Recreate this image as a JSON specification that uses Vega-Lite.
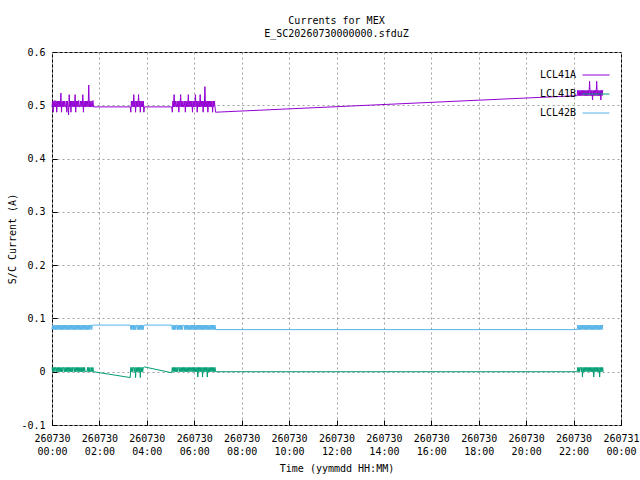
{
  "$schema": "https://vega.github.io/schema/vega-lite/v6.json",
  "autosize": "none",
  "padding": {"left": 52, "top": 52, "right": 19, "bottom": 55},
  "width": 569,
  "height": 373,
  "background": "white",
  "title": {
    "text": "Currents for MEX",
    "subtitle": "E_SC20260730000000.sfduZ",
    "anchor": "middle",
    "font": "DejaVu Sans Mono",
    "fontSize": 10,
    "fontWeight": "normal",
    "color": "black",
    "subtitleFont": "DejaVu Sans Mono",
    "subtitleFontSize": 10,
    "subtitleColor": "black",
    "subtitlePadding": 3,
    "offset": 8
  },
  "data": {
    "values": [
      {"hour": 0, "LCL41A": 0.497, "LCL41B": 0.008, "LCL42B": 0.079},
      {"hour": 0.025, "LCL41A": 0.508, "LCL41B": 0, "LCL42B": 0.0875},
      {"hour": 0.05, "LCL41A": 0.487, "LCL41B": 0.008, "LCL42B": 0.079},
      {"hour": 0.075, "LCL41A": 0.508, "LCL41B": 0, "LCL42B": 0.0875},
      {"hour": 0.1, "LCL41A": 0.497, "LCL41B": 0.008, "LCL42B": 0.079},
      {"hour": 0.125, "LCL41A": 0.509, "LCL41B": 0, "LCL42B": 0.0875},
      {"hour": 0.15, "LCL41A": 0.497, "LCL41B": 0.008, "LCL42B": 0.079},
      {"hour": 0.175, "LCL41A": 0.508, "LCL41B": 0.008, "LCL42B": 0.0875},
      {"hour": 0.2, "LCL41A": 0.487, "LCL41B": 0, "LCL42B": 0.079},
      {"hour": 0.225, "LCL41A": 0.508, "LCL41B": 0.008, "LCL42B": 0.0875},
      {"hour": 0.25, "LCL41A": 0.497, "LCL41B": 0, "LCL42B": 0.079},
      {"hour": 0.275, "LCL41A": 0.508, "LCL41B": 0.008, "LCL42B": 0.0875},
      {"hour": 0.3, "LCL41A": 0.497, "LCL41B": 0, "LCL42B": 0.079},
      {"hour": 0.325, "LCL41A": 0.508, "LCL41B": 0.008, "LCL42B": 0.0875},
      {"hour": 0.35, "LCL41A": 0.497, "LCL41B": 0, "LCL42B": 0.079},
      {"hour": 0.375, "LCL41A": 0.523, "LCL41B": 0.008, "LCL42B": 0.0875},
      {"hour": 0.4, "LCL41A": 0.487, "LCL41B": 0, "LCL42B": 0.079},
      {"hour": 0.425, "LCL41A": 0.508, "LCL41B": 0.008, "LCL42B": 0.0875},
      {"hour": 0.45, "LCL41A": 0.497, "LCL41B": 0, "LCL42B": 0.079},
      {"hour": 0.475, "LCL41A": 0.508, "LCL41B": 0.008, "LCL42B": 0.0875},
      {"hour": 0.5, "LCL41A": 0.497, "LCL41B": 0.008, "LCL42B": 0.079},
      {"hour": 0.525, "LCL41A": 0.508, "LCL41B": 0, "LCL42B": 0.0875},
      {"hour": 0.55, "LCL41A": 0.497, "LCL41B": 0.008, "LCL42B": 0.079},
      {"hour": 0.575, "LCL41A": 0.497, "LCL41B": 0, "LCL42B": 0.0875},
      {"hour": 0.6, "LCL41A": 0.508, "LCL41B": 0.008, "LCL42B": 0.079},
      {"hour": 0.625, "LCL41A": 0.487, "LCL41B": 0, "LCL42B": 0.0875},
      {"hour": 0.65, "LCL41A": 0.508, "LCL41B": 0.008, "LCL42B": 0.079},
      {"hour": 0.675, "LCL41A": 0.497, "LCL41B": 0, "LCL42B": 0.0875},
      {"hour": 0.7, "LCL41A": 0.482, "LCL41B": 0.008, "LCL42B": 0.079},
      {"hour": 0.725, "LCL41A": 0.52, "LCL41B": 0, "LCL42B": 0.0875},
      {"hour": 0.75, "LCL41A": 0.497, "LCL41B": 0.008, "LCL42B": 0.079},
      {"hour": 0.775, "LCL41A": 0.508, "LCL41B": 0, "LCL42B": 0.0875},
      {"hour": 0.8, "LCL41A": 0.487, "LCL41B": 0.008, "LCL42B": 0.079},
      {"hour": 0.825, "LCL41A": 0.508, "LCL41B": 0, "LCL42B": 0.0875},
      {"hour": 0.85, "LCL41A": 0.497, "LCL41B": 0.008, "LCL42B": 0.079},
      {"hour": 0.875, "LCL41A": 0.508, "LCL41B": 0, "LCL42B": 0.0875},
      {"hour": 0.9, "LCL41A": 0.497, "LCL41B": 0.008, "LCL42B": 0.079},
      {"hour": 0.925, "LCL41A": 0.508, "LCL41B": 0.008, "LCL42B": 0.0875},
      {"hour": 0.95, "LCL41A": 0.497, "LCL41B": 0, "LCL42B": 0.079},
      {"hour": 0.975, "LCL41A": 0.52, "LCL41B": 0.008, "LCL42B": 0.0875},
      {"hour": 1.0, "LCL41A": 0.487, "LCL41B": 0, "LCL42B": 0.079},
      {"hour": 1.025, "LCL41A": 0.508, "LCL41B": 0.008, "LCL42B": 0.0875},
      {"hour": 1.05, "LCL41A": 0.497, "LCL41B": 0, "LCL42B": 0.079},
      {"hour": 1.075, "LCL41A": 0.508, "LCL41B": 0.008, "LCL42B": 0.0875},
      {"hour": 1.1, "LCL41A": 0.497, "LCL41B": 0, "LCL42B": 0.079},
      {"hour": 1.125, "LCL41A": 0.509, "LCL41B": 0.008, "LCL42B": 0.0875},
      {"hour": 1.15, "LCL41A": 0.497, "LCL41B": 0, "LCL42B": 0.079},
      {"hour": 1.175, "LCL41A": 0.497, "LCL41B": 0.008, "LCL42B": 0.0875},
      {"hour": 1.2, "LCL41A": 0.508, "LCL41B": 0, "LCL42B": 0.079},
      {"hour": 1.225, "LCL41A": 0.497, "LCL41B": 0.008, "LCL42B": 0.0875},
      {"hour": 1.25, "LCL41A": 0.508, "LCL41B": 0, "LCL42B": 0.079},
      {"hour": 1.275, "LCL41A": 0.497, "LCL41B": 0.008, "LCL42B": 0.0875},
      {"hour": 1.3, "LCL41A": 0.52, "LCL41B": 0, "LCL42B": 0.079},
      {"hour": 1.325, "LCL41A": 0.487, "LCL41B": 0.008, "LCL42B": 0.0875},
      {"hour": 1.35, "LCL41A": 0.508, "LCL41B": 0, "LCL42B": 0.079},
      {"hour": 1.375, "LCL41A": 0.497, "LCL41B": 0.008, "LCL42B": 0.0875},
      {"hour": 1.4, "LCL41A": 0.508, "LCL41B": 0, "LCL42B": 0.079},
      {"hour": 1.425, "LCL41A": 0.497, "LCL41B": 0, "LCL42B": 0.0875},
      {"hour": 1.45, "LCL41A": 0.508, "LCL41B": 0, "LCL42B": 0.079},
      {"hour": 1.475, "LCL41A": 0.497, "LCL41B": 0, "LCL42B": 0.0875},
      {"hour": 1.5, "LCL41A": 0.508, "LCL41B": 0.008, "LCL42B": 0.079},
      {"hour": 1.525, "LCL41A": 0.497, "LCL41B": 0, "LCL42B": 0.0875},
      {"hour": 1.55, "LCL41A": 0.538, "LCL41B": 0.008, "LCL42B": 0.079},
      {"hour": 1.575, "LCL41A": 0.497, "LCL41B": 0, "LCL42B": 0.0875},
      {"hour": 1.6, "LCL41A": 0.508, "LCL41B": 0.008, "LCL42B": 0.079},
      {"hour": 1.625, "LCL41A": 0.497, "LCL41B": 0, "LCL42B": 0.0875},
      {"hour": 1.65, "LCL41A": 0.508, "LCL41B": 0, "LCL42B": 0.0875},
      {"hour": 1.675, "LCL41A": 0.497, "LCL41B": 0.008, "LCL42B": 0.079},
      {"hour": 1.7, "LCL41A": 0.497, "LCL41B": 0, "LCL42B": 0.0875},
      {"hour": 1.725, "LCL41A": 0.509, "LCL41B": 0.008, "LCL42B": 0.0875},
      {"hour": 1.75, "LCL41A": 0.497, "LCL41B": 0, "LCL42B": 0.0875},
      {"hour": 3.3, "LCL41A": 0.497, "LCL41B": -0.011, "LCL42B": 0.0875},
      {"hour": 3.325, "LCL41A": 0.487, "LCL41B": 0.008, "LCL42B": 0.079},
      {"hour": 3.35, "LCL41A": 0.508, "LCL41B": 0, "LCL42B": 0.0875},
      {"hour": 3.375, "LCL41A": 0.497, "LCL41B": 0.008, "LCL42B": 0.079},
      {"hour": 3.4, "LCL41A": 0.508, "LCL41B": 0, "LCL42B": 0.0875},
      {"hour": 3.425, "LCL41A": 0.497, "LCL41B": 0.008, "LCL42B": 0.079},
      {"hour": 3.45, "LCL41A": 0.52, "LCL41B": 0.008, "LCL42B": 0.0875},
      {"hour": 3.475, "LCL41A": 0.497, "LCL41B": 0, "LCL42B": 0.079},
      {"hour": 3.5, "LCL41A": 0.508, "LCL41B": 0.008, "LCL42B": 0.0875},
      {"hour": 3.525, "LCL41A": 0.487, "LCL41B": -0.011, "LCL42B": 0.079},
      {"hour": 3.55, "LCL41A": 0.508, "LCL41B": 0.008, "LCL42B": 0.0875},
      {"hour": 3.575, "LCL41A": 0.497, "LCL41B": 0, "LCL42B": 0.0875},
      {"hour": 3.6, "LCL41A": 0.508, "LCL41B": 0.008, "LCL42B": 0.079},
      {"hour": 3.625, "LCL41A": 0.497, "LCL41B": 0, "LCL42B": 0.0875},
      {"hour": 3.65, "LCL41A": 0.52, "LCL41B": 0.008, "LCL42B": 0.079},
      {"hour": 3.675, "LCL41A": 0.497, "LCL41B": 0, "LCL42B": 0.0875},
      {"hour": 3.7, "LCL41A": 0.508, "LCL41B": 0.008, "LCL42B": 0.079},
      {"hour": 3.725, "LCL41A": 0.487, "LCL41B": -0.011, "LCL42B": 0.0875},
      {"hour": 3.75, "LCL41A": 0.508, "LCL41B": 0.008, "LCL42B": 0.079},
      {"hour": 3.775, "LCL41A": 0.497, "LCL41B": 0, "LCL42B": 0.0875},
      {"hour": 3.8, "LCL41A": 0.508, "LCL41B": 0.008, "LCL42B": 0.079},
      {"hour": 3.825, "LCL41A": 0.497, "LCL41B": 0, "LCL42B": 0.0875},
      {"hour": 3.85, "LCL41A": 0.508, "LCL41B": 0.008, "LCL42B": 0.079},
      {"hour": 3.875, "LCL41A": 0.487, "LCL41B": 0.008, "LCL42B": 0.0875},
      {"hour": 3.9, "LCL41A": 0.497, "LCL41B": 0.009, "LCL42B": 0.0875},
      {"hour": 5.05, "LCL41A": 0.497, "LCL41B": -0.002, "LCL42B": 0.0875},
      {"hour": 5.075, "LCL41A": 0.487, "LCL41B": 0.008, "LCL42B": 0.079},
      {"hour": 5.1, "LCL41A": 0.508, "LCL41B": 0, "LCL42B": 0.0875},
      {"hour": 5.125, "LCL41A": 0.497, "LCL41B": 0.008, "LCL42B": 0.079},
      {"hour": 5.15, "LCL41A": 0.52, "LCL41B": 0, "LCL42B": 0.0875},
      {"hour": 5.175, "LCL41A": 0.497, "LCL41B": 0.008, "LCL42B": 0.079},
      {"hour": 5.2, "LCL41A": 0.508, "LCL41B": 0, "LCL42B": 0.0875},
      {"hour": 5.225, "LCL41A": 0.497, "LCL41B": 0.008, "LCL42B": 0.079},
      {"hour": 5.25, "LCL41A": 0.497, "LCL41B": 0, "LCL42B": 0.0875},
      {"hour": 5.275, "LCL41A": 0.508, "LCL41B": 0.008, "LCL42B": 0.0875},
      {"hour": 5.3, "LCL41A": 0.497, "LCL41B": 0, "LCL42B": 0.079},
      {"hour": 5.325, "LCL41A": 0.508, "LCL41B": 0.008, "LCL42B": 0.0875},
      {"hour": 5.35, "LCL41A": 0.487, "LCL41B": 0.008, "LCL42B": 0.079},
      {"hour": 5.375, "LCL41A": 0.508, "LCL41B": 0, "LCL42B": 0.0875},
      {"hour": 5.4, "LCL41A": 0.497, "LCL41B": 0.008, "LCL42B": 0.079},
      {"hour": 5.425, "LCL41A": 0.52, "LCL41B": 0, "LCL42B": 0.0875},
      {"hour": 5.45, "LCL41A": 0.497, "LCL41B": 0.008, "LCL42B": 0.079},
      {"hour": 5.475, "LCL41A": 0.508, "LCL41B": 0, "LCL42B": 0.0875},
      {"hour": 5.5, "LCL41A": 0.497, "LCL41B": 0.008, "LCL42B": 0.079},
      {"hour": 5.525, "LCL41A": 0.508, "LCL41B": 0, "LCL42B": 0.0875},
      {"hour": 5.55, "LCL41A": 0.497, "LCL41B": 0.008, "LCL42B": 0.0875},
      {"hour": 5.575, "LCL41A": 0.497, "LCL41B": 0, "LCL42B": 0.0875},
      {"hour": 5.6, "LCL41A": 0.508, "LCL41B": 0.008, "LCL42B": 0.079},
      {"hour": 5.625, "LCL41A": 0.487, "LCL41B": 0, "LCL42B": 0.0875},
      {"hour": 5.65, "LCL41A": 0.508, "LCL41B": 0.008, "LCL42B": 0.079},
      {"hour": 5.675, "LCL41A": 0.497, "LCL41B": 0, "LCL42B": 0.0875},
      {"hour": 5.7, "LCL41A": 0.508, "LCL41B": 0.008, "LCL42B": 0.079},
      {"hour": 5.725, "LCL41A": 0.497, "LCL41B": 0, "LCL42B": 0.0875},
      {"hour": 5.75, "LCL41A": 0.52, "LCL41B": 0.008, "LCL42B": 0.079},
      {"hour": 5.775, "LCL41A": 0.497, "LCL41B": 0, "LCL42B": 0.0875},
      {"hour": 5.8, "LCL41A": 0.508, "LCL41B": 0.008, "LCL42B": 0.079},
      {"hour": 5.825, "LCL41A": 0.497, "LCL41B": 0, "LCL42B": 0.0875},
      {"hour": 5.85, "LCL41A": 0.508, "LCL41B": 0.008, "LCL42B": 0.079},
      {"hour": 5.875, "LCL41A": 0.497, "LCL41B": 0.008, "LCL42B": 0.0875},
      {"hour": 5.9, "LCL41A": 0.508, "LCL41B": 0, "LCL42B": 0.079},
      {"hour": 5.925, "LCL41A": 0.487, "LCL41B": 0.008, "LCL42B": 0.0875},
      {"hour": 5.95, "LCL41A": 0.508, "LCL41B": 0, "LCL42B": 0.079},
      {"hour": 5.975, "LCL41A": 0.497, "LCL41B": 0.008, "LCL42B": 0.0875},
      {"hour": 6.0, "LCL41A": 0.508, "LCL41B": 0, "LCL42B": 0.079},
      {"hour": 6.025, "LCL41A": 0.497, "LCL41B": 0.008, "LCL42B": 0.0875},
      {"hour": 6.05, "LCL41A": 0.52, "LCL41B": 0, "LCL42B": 0.079},
      {"hour": 6.075, "LCL41A": 0.497, "LCL41B": 0.008, "LCL42B": 0.0875},
      {"hour": 6.1, "LCL41A": 0.508, "LCL41B": 0, "LCL42B": 0.079},
      {"hour": 6.125, "LCL41A": 0.487, "LCL41B": 0.008, "LCL42B": 0.0875},
      {"hour": 6.15, "LCL41A": 0.508, "LCL41B": -0.01, "LCL42B": 0.079},
      {"hour": 6.175, "LCL41A": 0.497, "LCL41B": 0.008, "LCL42B": 0.0875},
      {"hour": 6.2, "LCL41A": 0.508, "LCL41B": 0, "LCL42B": 0.079},
      {"hour": 6.225, "LCL41A": 0.497, "LCL41B": 0.008, "LCL42B": 0.0875},
      {"hour": 6.25, "LCL41A": 0.52, "LCL41B": 0, "LCL42B": 0.079},
      {"hour": 6.275, "LCL41A": 0.497, "LCL41B": 0.008, "LCL42B": 0.0875},
      {"hour": 6.3, "LCL41A": 0.508, "LCL41B": 0, "LCL42B": 0.079},
      {"hour": 6.325, "LCL41A": 0.497, "LCL41B": 0.008, "LCL42B": 0.0875},
      {"hour": 6.35, "LCL41A": 0.508, "LCL41B": -0.01, "LCL42B": 0.079},
      {"hour": 6.375, "LCL41A": 0.487, "LCL41B": 0.008, "LCL42B": 0.0875},
      {"hour": 6.4, "LCL41A": 0.508, "LCL41B": 0, "LCL42B": 0.079},
      {"hour": 6.425, "LCL41A": 0.497, "LCL41B": 0.008, "LCL42B": 0.0875},
      {"hour": 6.45, "LCL41A": 0.535, "LCL41B": 0, "LCL42B": 0.079},
      {"hour": 6.475, "LCL41A": 0.497, "LCL41B": 0.008, "LCL42B": 0.0875},
      {"hour": 6.5, "LCL41A": 0.508, "LCL41B": 0, "LCL42B": 0.079},
      {"hour": 6.525, "LCL41A": 0.497, "LCL41B": 0.008, "LCL42B": 0.0875},
      {"hour": 6.55, "LCL41A": 0.508, "LCL41B": -0.01, "LCL42B": 0.079},
      {"hour": 6.575, "LCL41A": 0.487, "LCL41B": 0.008, "LCL42B": 0.0875},
      {"hour": 6.6, "LCL41A": 0.508, "LCL41B": 0, "LCL42B": 0.079},
      {"hour": 6.625, "LCL41A": 0.497, "LCL41B": 0.008, "LCL42B": 0.0875},
      {"hour": 6.65, "LCL41A": 0.508, "LCL41B": 0, "LCL42B": 0.079},
      {"hour": 6.675, "LCL41A": 0.497, "LCL41B": 0.008, "LCL42B": 0.0875},
      {"hour": 6.7, "LCL41A": 0.508, "LCL41B": 0, "LCL42B": 0.079},
      {"hour": 6.725, "LCL41A": 0.497, "LCL41B": 0.008, "LCL42B": 0.0875},
      {"hour": 6.75, "LCL41A": 0.508, "LCL41B": 0, "LCL42B": 0.079},
      {"hour": 6.775, "LCL41A": 0.487, "LCL41B": 0.008, "LCL42B": 0.0875},
      {"hour": 6.8, "LCL41A": 0.508, "LCL41B": 0, "LCL42B": 0.079},
      {"hour": 6.825, "LCL41A": 0.497, "LCL41B": 0.008, "LCL42B": 0.0875},
      {"hour": 6.85, "LCL41A": 0.508, "LCL41B": 0, "LCL42B": 0.079},
      {"hour": 6.875, "LCL41A": 0.497, "LCL41B": 0.008, "LCL42B": 0.0875},
      {"hour": 6.9, "LCL41A": 0.487, "LCL41B": 0, "LCL42B": 0.079},
      {"hour": 22.15, "LCL41A": 0.518, "LCL41B": 0, "LCL42B": 0.079},
      {"hour": 22.175, "LCL41A": 0.528, "LCL41B": 0.008, "LCL42B": 0.0875},
      {"hour": 22.2, "LCL41A": 0.518, "LCL41B": 0, "LCL42B": 0.079},
      {"hour": 22.225, "LCL41A": 0.528, "LCL41B": 0.008, "LCL42B": 0.0875},
      {"hour": 22.25, "LCL41A": 0.518, "LCL41B": 0, "LCL42B": 0.079},
      {"hour": 22.275, "LCL41A": 0.528, "LCL41B": 0.008, "LCL42B": 0.0875},
      {"hour": 22.3, "LCL41A": 0.518, "LCL41B": 0.008, "LCL42B": 0.079},
      {"hour": 22.325, "LCL41A": 0.528, "LCL41B": 0, "LCL42B": 0.0875},
      {"hour": 22.35, "LCL41A": 0.518, "LCL41B": 0.008, "LCL42B": 0.079},
      {"hour": 22.375, "LCL41A": 0.528, "LCL41B": -0.01, "LCL42B": 0.0875},
      {"hour": 22.4, "LCL41A": 0.518, "LCL41B": 0.008, "LCL42B": 0.079},
      {"hour": 22.425, "LCL41A": 0.528, "LCL41B": 0, "LCL42B": 0.0875},
      {"hour": 22.45, "LCL41A": 0.518, "LCL41B": 0.008, "LCL42B": 0.079},
      {"hour": 22.475, "LCL41A": 0.528, "LCL41B": 0, "LCL42B": 0.0875},
      {"hour": 22.5, "LCL41A": 0.518, "LCL41B": 0.008, "LCL42B": 0.079},
      {"hour": 22.525, "LCL41A": 0.528, "LCL41B": 0, "LCL42B": 0.0875},
      {"hour": 22.55, "LCL41A": 0.518, "LCL41B": 0.008, "LCL42B": 0.079},
      {"hour": 22.575, "LCL41A": 0.528, "LCL41B": 0.008, "LCL42B": 0.0875},
      {"hour": 22.6, "LCL41A": 0.518, "LCL41B": 0, "LCL42B": 0.079},
      {"hour": 22.625, "LCL41A": 0.528, "LCL41B": 0.008, "LCL42B": 0.0875},
      {"hour": 22.65, "LCL41A": 0.518, "LCL41B": 0, "LCL42B": 0.079},
      {"hour": 22.675, "LCL41A": 0.545, "LCL41B": 0.008, "LCL42B": 0.0875},
      {"hour": 22.7, "LCL41A": 0.518, "LCL41B": 0, "LCL42B": 0.079},
      {"hour": 22.725, "LCL41A": 0.528, "LCL41B": 0.008, "LCL42B": 0.0875},
      {"hour": 22.75, "LCL41A": 0.518, "LCL41B": 0, "LCL42B": 0.079},
      {"hour": 22.775, "LCL41A": 0.528, "LCL41B": 0.008, "LCL42B": 0.0875},
      {"hour": 22.8, "LCL41A": 0.51, "LCL41B": 0, "LCL42B": 0.079},
      {"hour": 22.825, "LCL41A": 0.528, "LCL41B": 0.008, "LCL42B": 0.0875},
      {"hour": 22.85, "LCL41A": 0.518, "LCL41B": -0.01, "LCL42B": 0.079},
      {"hour": 22.875, "LCL41A": 0.528, "LCL41B": 0.008, "LCL42B": 0.0875},
      {"hour": 22.9, "LCL41A": 0.518, "LCL41B": 0, "LCL42B": 0.079},
      {"hour": 22.925, "LCL41A": 0.528, "LCL41B": 0.008, "LCL42B": 0.0875},
      {"hour": 22.95, "LCL41A": 0.518, "LCL41B": 0, "LCL42B": 0.079},
      {"hour": 22.975, "LCL41A": 0.545, "LCL41B": 0.008, "LCL42B": 0.0875},
      {"hour": 23.0, "LCL41A": 0.518, "LCL41B": 0, "LCL42B": 0.079},
      {"hour": 23.025, "LCL41A": 0.528, "LCL41B": 0.008, "LCL42B": 0.0875},
      {"hour": 23.05, "LCL41A": 0.518, "LCL41B": 0, "LCL42B": 0.079},
      {"hour": 23.075, "LCL41A": 0.528, "LCL41B": 0.008, "LCL42B": 0.0875},
      {"hour": 23.1, "LCL41A": 0.518, "LCL41B": -0.01, "LCL42B": 0.079},
      {"hour": 23.125, "LCL41A": 0.528, "LCL41B": 0.008, "LCL42B": 0.0875},
      {"hour": 23.15, "LCL41A": 0.51, "LCL41B": 0, "LCL42B": 0.079},
      {"hour": 23.175, "LCL41A": 0.528, "LCL41B": 0.008, "LCL42B": 0.0875},
      {"hour": 23.2, "LCL41A": 0.518, "LCL41B": 0, "LCL42B": 0.079},
      {"hour": 23.225, "LCL41A": 0.528, "LCL41B": 0.008, "LCL42B": 0.0875},
      {"hour": 23.25, "LCL41A": 0.528, "LCL41B": 0, "LCL42B": 0.0875}
    ]
  },
  "transform": [
    {"fold": ["LCL41A", "LCL41B", "LCL42B"], "as": ["series", "current"]}
  ],
  "mark": {"type": "line", "strokeWidth": 1},
  "encoding": {
    "x": {
      "field": "hour",
      "type": "quantitative",
      "title": "Time (yymmdd HH:MM)",
      "scale": {"domain": [0, 24], "nice": false, "zero": false},
      "axis": {
        "values": [0, 2, 4, 6, 8, 10, 12, 14, 16, 18, 20, 22, 24],
        "labelExpr": "[datum.value == 24 ? '260731' : '260730', (datum.value % 24 < 10 ? '0' : '') + (datum.value % 24) + ':00']",
        "labelLineHeight": 13,
        "labelOverlap": false,
        "labelFlush": false,
        "labelPadding": 13,
        "titlePadding": 7
      }
    },
    "y": {
      "field": "current",
      "type": "quantitative",
      "title": "S/C Current (A)",
      "scale": {"domain": [-0.1, 0.6], "nice": false, "zero": false},
      "axis": {
        "values": [-0.1, 0, 0.1, 0.2, 0.3, 0.4, 0.5, 0.6],
        "labelExpr": "toString(round(datum.value * 10) / 10)",
        "labelPadding": 12,
        "titlePadding": 3
      }
    },
    "color": {
      "field": "series",
      "type": "nominal",
      "scale": {
        "domain": ["LCL41A", "LCL41B", "LCL42B"],
        "range": ["#9400d3", "#009e73", "#56b4e9"]
      },
      "legend": {
        "title": null,
        "orient": "top-right",
        "offset": 9,
        "padding": 0,
        "symbolType": "stroke",
        "symbolSize": 729,
        "symbolStrokeWidth": 1,
        "labelAlign": "right",
        "labelOffset": -34,
        "rowPadding": -14.5,
        "labelFont": "DejaVu Sans Mono",
        "labelFontSize": 10,
        "labelColor": "black"
      }
    }
  },
  "config": {
    "view": {"stroke": "black", "strokeWidth": 1},
    "axis": {
      "domain": false,
      "grid": true,
      "gridColor": "#a0a0a0",
      "gridDash": [2, 3],
      "ticks": true,
      "tickColor": "black",
      "tickSize": -5,
      "labelFont": "DejaVu Sans Mono",
      "labelFontSize": 10,
      "labelColor": "black",
      "titleFont": "DejaVu Sans Mono",
      "titleFontSize": 10,
      "titleFontWeight": "normal",
      "titleColor": "black"
    }
  }
}
